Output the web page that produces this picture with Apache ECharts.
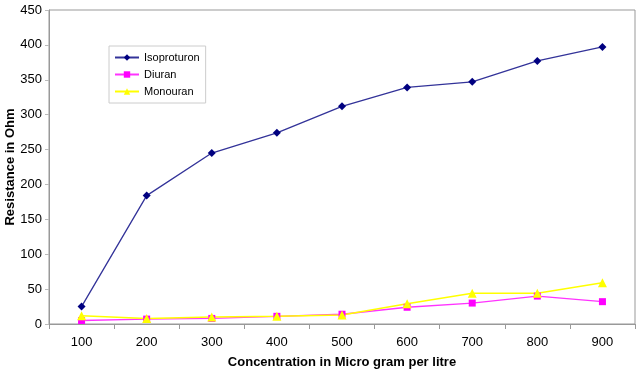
<!DOCTYPE html>
<html>
<head>
<meta charset="utf-8">
<script src="https://cdn.jsdelivr.net/npm/echarts@6/dist/echarts.min.js"></script>
<style>
  html, body { margin: 0; padding: 0; background: #fff; }
  #chart { width: 640px; height: 374px; }
</style>
</head>
<body>
<div id="chart"></div>
<script>
// concentration (micro gram per litre)
var categories = ['100', '200', '300', '400', '500', '600', '700', '800', '900'];
// resistance readings in Ohm
var isoproturon = [25, 184, 245, 274, 312, 339, 347, 377, 397];
var diuran = [5, 7, 8, 11, 14, 24, 30, 40, 32];
var monouran = [12, 8, 10, 11, 13, 29, 44, 44, 59];

var myChart = echarts.init(document.getElementById('chart'));
var font = 'Liberation Sans, Arial, sans-serif';

var option = {
  animation: false,
  backgroundColor: '#fff',
  grid: {
    left: 49, right: 5, top: 10, bottom: 50,
    outerBoundsMode: 'none',
    containLabel: false,
    show: true, borderColor: '#999', borderWidth: 1
  },
  legend: {
    orient: 'vertical',
    left: 109, top: 46,
    padding: [6, 6, 6, 5],
    itemGap: 6,
    itemWidth: 24, itemHeight: 8,
    borderColor: '#ccc', borderWidth: 1,
    textStyle: { fontFamily: font, fontSize: 11, color: '#000' },
    data: ['Isoproturon', 'Diuran', 'Monouran']
  },
  xAxis: {
    type: 'category',
    data: categories,
    boundaryGap: true,
    name: 'Concentration in Micro gram per litre',
    nameLocation: 'middle',
    nameGap: 32,
    nameMoveOverlap: false,
    nameTextStyle: { fontFamily: font, fontSize: 13, fontWeight: 'bold', color: '#000' },
    axisLine: { lineStyle: { color: '#999' } },
    axisTick: { show: true, length: 5, lineStyle: { color: '#999' } },
    axisLabel: { fontFamily: font, fontSize: 13, color: '#000', margin: 12 }
  },
  yAxis: {
    type: 'value',
    min: 0, max: 450, interval: 50,
    name: 'Resistance in Ohm',
    nameLocation: 'middle',
    nameGap: 32,
    nameMoveOverlap: false,
    nameTextStyle: { fontFamily: font, fontSize: 13, fontWeight: 'bold', color: '#000' },
    splitLine: { show: false },
    axisLine: { show: true, lineStyle: { color: '#999' } },
    axisTick: { show: true, length: 4, lineStyle: { color: '#bbb' } },
    axisLabel: { fontFamily: font, fontSize: 13, color: '#000', margin: 7 }
  },
  series: [
    {
      name: 'Isoproturon', type: 'line', data: isoproturon,
      symbol: 'diamond', symbolSize: 8,
      itemStyle: { color: '#000080' },
      lineStyle: { color: '#333399', width: 1.3 }
    },
    {
      name: 'Diuran', type: 'line', data: diuran,
      symbol: 'rect', symbolSize: 7,
      itemStyle: { color: '#FF00FF' },
      lineStyle: { color: '#FF33FF', width: 1.3 }
    },
    {
      name: 'Monouran', type: 'line', data: monouran,
      symbol: 'triangle', symbolSize: 9,
      itemStyle: { color: '#FFFF00' },
      lineStyle: { color: '#FFFF00', width: 1.5 }
    }
  ]
};
myChart.setOption(option);
</script>
</body>
</html>
